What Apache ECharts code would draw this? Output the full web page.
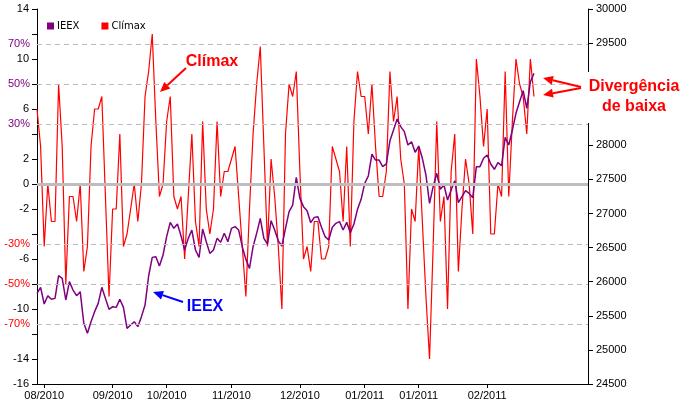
<!DOCTYPE html>
<html>
<head>
<meta charset="utf-8">
<script src="https://cdn.jsdelivr.net/npm/echarts@6.0.0/dist/echarts.min.js"></script>
<style>
  html, body { margin: 0; padding: 0; background: #fff; }
  #chart { width: 683px; height: 407px; }
</style>
</head>
<body>
<div id="chart"></div>
<script>
// month ticks on the x axis (category index -> label)
const tickIdx = [2, 21, 36, 54, 73, 91, 106, 125];
const tickLabels = ['08/2010', '09/2010', '10/2010', '11/2010', '12/2010', '01/2011', '01/2011', '02/2011'];
const nCats = 154;

// Clímax oscillator (left axis)
const climax = [
  6, 3, -5, 0, -3, -3, 8, 3, -8, -1,
  -1, -3, 0, -7, -5, 3, 6, 6, 7, -1,
  -9, -2, -2, 4, -5, -4, -2, 0, -3, 0,
  7, 9, 12, 5, -1, 0, 5, 7, -1, -2,
  -1, -6, -1, 4, -3, -5, 5, -2, -4, -2,
  5, -1, 1, 1, 2, 3, -1, -5, -9, -2,
  4, 8, 11, 3, -5, 2, -1, -5, -10, 4,
  8, 7, 9, 1, -6, -5, -7, -3, -3, -6,
  -6, -5, 3, 2, 1, -3, 3, -5, 5, 9,
  7, 7, 4, 8, 3, -1, -1, 1, 9, 5,
  7, 2, 0, -10, -2, -3, 3, -3, -9, -14,
  -5, 5, -3, -1, -10, 1, 4, -7, -2, 2,
  0, -4, 10, 7, 3, 6, -4, -4, 0, -1,
  9, -1, 5, 10, 8, 7, 4, 10, 7
];

// IEEX index (right axis)
const ieex = [
  25830, 25918, 25673, 25795, 25742, 25756, 26089, 26050, 25732, 26001,
  25878, 25795, 25854, 25390, 25243, 25414, 25561, 25683, 25918, 25756,
  25595, 25634, 25624, 25742, 25624, 25316, 25365, 25414, 25341, 25488,
  25658, 26084, 26357, 26367, 26231, 26392, 26661, 26871, 26783, 26846,
  26671, 26465, 26636, 26758, 26465, 26357, 26773, 26587, 26416, 26465,
  26636, 26578, 26710, 26587, 26783, 26808, 26758, 26514, 26328, 26196,
  26514, 26710, 26930, 26636, 26553, 26895, 26758, 26600, 26524, 26783,
  27028, 27125, 27531, 27223, 27101, 27042, 26866, 26944, 26954, 26798,
  26661, 26612, 26798, 26856, 26881, 26758, 26871, 26720, 26846, 27062,
  27209, 27443, 27551, 27873, 27785, 27785, 27688, 27727, 28069, 28225,
  28387, 28274, 28201, 28005, 28054, 27898, 27990, 27810, 27565, 27150,
  27394, 27590, 27355, 27418, 27199, 27345, 27482, 27159, 27247, 27335,
  27296, 27233, 27688, 27688, 27810, 27859, 27727, 27649, 27746, 27702,
  28118, 28005, 28225, 28470, 28641, 28802, 28543, 28934, 29056
];

const leftLabels = [14, 10, 6, 2, 0, -2, -6, -10, -14, -16];
// percentage guide lines (left axis value -> label)
const pctValues = [11.2, 8, 4.8, -4.8, -8, -11.2];
const pctLabels = ['70%', '50%', '30%', '-30%', '-50%', '-70%'];

const categories = [];
const labelAt = {};
for (let i = 0; i < nCats; i++) categories.push(String(i));
tickIdx.forEach((k, j) => { labelAt[k] = tickLabels[j]; });

const font = 'Liberation Sans, Arial, sans-serif';
const myChart = echarts.init(document.getElementById('chart'));

function arrow(x1, y1, x2, y2, color) {
    const a = Math.atan2(y2 - y1, x2 - x1), L = 10, W = 4.5;
    const bx = x2 - L * Math.cos(a), by = y2 - L * Math.sin(a);
    const nx = -Math.sin(a) * W, ny = Math.cos(a) * W;
    return [
        { type: 'line', z: 20, shape: { x1: x1, y1: y1, x2: bx, y2: by }, style: { stroke: color, lineWidth: 2 } },
        { type: 'polygon', z: 20, shape: { points: [[x2, y2], [bx + nx, by + ny], [bx - nx, by - ny]] }, style: { fill: color } }
    ];
}

const guideLines = pctValues.map((v, j) => ({
    yAxis: v,
    lineStyle: { color: '#bdbdbd', width: 1, type: [5, 4] },
    label: {
        show: true, position: 'start', distance: 7, formatter: pctLabels[j],
        color: v > 0 ? '#800080' : '#ff0000', fontFamily: font, fontSize: 11
    }
}));
guideLines.push({
    yAxis: 0,
    lineStyle: { color: '#bdbdbd', width: 3, type: 'solid' },
    label: { show: false }
});

const option = {
    animation: false,
    backgroundColor: '#fff',
    textStyle: { fontFamily: font },
    legend: {
        left: 42, top: 16,
        icon: 'rect', itemWidth: 7, itemHeight: 7, itemGap: 22,
        textStyle: { fontFamily: 'DejaVu Sans', fontSize: 10, color: '#000', padding: [0, 0, 0, -2] },
        data: ['IEEX', 'Clímax']
    },
    grid: { left: 37, right: 95, top: 9, bottom: 23 },
    xAxis: {
        type: 'category',
        data: categories,
        boundaryGap: false,
        axisLine: { onZero: false, lineStyle: { color: '#000' } },
        axisTick: { length: 4, lineStyle: { color: '#000' }, interval: (i) => labelAt[i] !== undefined },
        axisLabel: {
            interval: (i) => labelAt[i] !== undefined,
            formatter: (v, i) => labelAt[i] || '',
            color: '#000', fontSize: 11, margin: 6, fontFamily: font
        },
        splitLine: { show: false }
    },
    yAxis: [
        {
            type: 'value', min: -16, max: 14, interval: 2,
            axisLine: { show: true, lineStyle: { color: '#000' } },
            axisTick: { show: true, length: 5, lineStyle: { color: '#000' } },
            axisLabel: {
                color: '#000', fontSize: 11, margin: 8, fontFamily: font,
                formatter: (v) => leftLabels.includes(v) ? String(v) : ''
            },
            splitLine: { show: false }
        },
        {
            type: 'value', min: 24500, max: 30000, interval: 500, position: 'right',
            axisLine: { show: true, lineStyle: { color: '#000' } },
            axisTick: { show: true, length: 5, lineStyle: { color: '#000' } },
            axisLabel: { color: '#000', fontSize: 11, margin: 8, fontFamily: font, formatter: (v) => String(v) },
            splitLine: { show: false }
        }
    ],
    series: [
        {
            name: 'IEEX',
            type: 'line',
            yAxisIndex: 1,
            data: ieex,
            showSymbol: false,
            symbol: 'none',
            itemStyle: { color: '#800080' },
            lineStyle: { color: '#800080', width: 1.5 },
            z: 3
        },
        {
            name: 'Clímax',
            type: 'line',
            yAxisIndex: 0,
            data: climax,
            showSymbol: false,
            symbol: 'none',
            itemStyle: { color: '#ff0000' },
            lineStyle: { color: '#ff0000', width: 1.2 },
            z: 2,
            markLine: {
                silent: true,
                symbol: 'none',
                animation: false,
                data: guideLines
            }
        }
    ],
    graphic: [
        // white box behind the annotation covers the right axis there
        { type: 'rect', z: 10, shape: { x: 578, y: 72, width: 105, height: 51 }, style: { fill: '#fff' } },
        { type: 'text', z: 20, x: 212, y: 62, style: { text: 'Clímax', fill: '#ff0000', font: 'bold 16px Liberation Sans, Arial', align: 'center', verticalAlign: 'middle' } },
        { type: 'text', z: 20, x: 205, y: 307, style: { text: 'IEEX', fill: '#0000ff', font: 'bold 16px Liberation Sans, Arial', align: 'center', verticalAlign: 'middle' } },
        { type: 'text', z: 20, x: 634, y: 87, style: { text: 'Divergência', fill: '#ff0000', font: 'bold 16px Liberation Sans, Arial', align: 'center', verticalAlign: 'middle' } },
        { type: 'text', z: 20, x: 634, y: 107, style: { text: 'de baixa', fill: '#ff0000', font: 'bold 16px Liberation Sans, Arial', align: 'center', verticalAlign: 'middle' } }
    ]
        .concat(arrow(186, 68, 160, 92, '#ff0000'))
        .concat(arrow(183, 302, 153, 292, '#0000ff'))
        .concat(arrow(581, 87, 543, 78, '#ff0000'))
        .concat(arrow(581, 88, 543, 95, '#ff0000'))
};

myChart.setOption(option);
</script>
</body>
</html>
